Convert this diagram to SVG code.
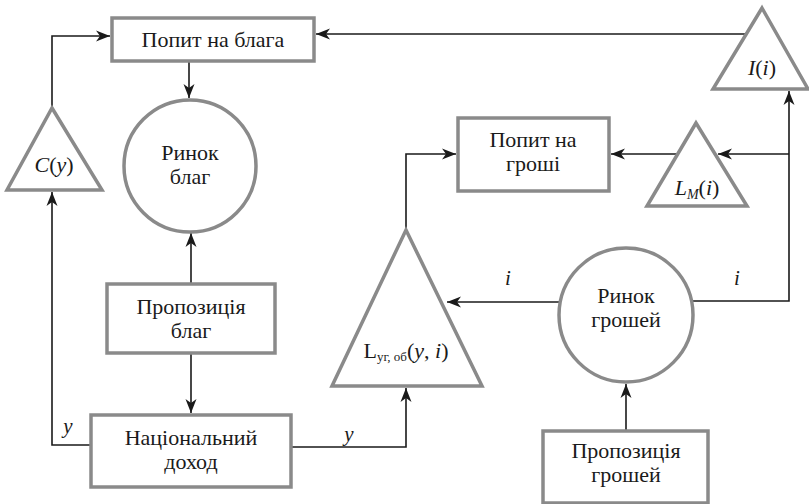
<svg xmlns="http://www.w3.org/2000/svg" width="809" height="504" viewBox="0 0 809 504">
<defs>
<marker id="arr" markerUnits="userSpaceOnUse" markerWidth="16" markerHeight="12" refX="14" refY="6" orient="auto">
<path d="M0,0.5 L14,6 L0,11.5 L4,6 z" fill="#1a1a1a"/>
</marker>
</defs>
<style>
.n{fill:#fff;stroke:#8a8a8a;stroke-width:3.5}
.c{fill:none;stroke:#1a1a1a;stroke-width:1.6}
text{font-family:'Liberation Serif','Times New Roman',serif;font-size:22px;fill:#1a1a1a;text-anchor:middle}
.i{font-style:italic}
.lb{font-style:italic;font-size:21px}
</style>
<rect width="809" height="504" fill="#fff"/>
<g id="connectors">
<path class="c" d="M52,108 V36 H110" marker-end="url(#arr)"/>
<path class="c" d="M745,34 H316" marker-end="url(#arr)"/>
<path class="c" d="M189,62 V98" marker-end="url(#arr)"/>
<path class="c" d="M191,284 V233" marker-end="url(#arr)"/>
<path class="c" d="M191,353 V413" marker-end="url(#arr)"/>
<path class="c" d="M91,445 H52 V192" marker-end="url(#arr)"/>
<path class="c" d="M291,447 H406 V388" marker-end="url(#arr)"/>
<path class="c" d="M406,230 V154 H456" marker-end="url(#arr)"/>
<path class="c" d="M679,154 H611" marker-end="url(#arr)"/>
<path class="c" d="M789,154 H718" marker-end="url(#arr)"/>
<path class="c" d="M693,301 H789 V91" marker-end="url(#arr)"/>
<path class="c" d="M559,302 H447" marker-end="url(#arr)"/>
<path class="c" d="M626,431 V384" marker-end="url(#arr)"/>
<text class="lb" x="68" y="433">y</text>
<text class="lb" x="349" y="441">y</text>
<text class="lb" x="508" y="285">i</text>
<text class="lb" x="737" y="285">i</text>
</g>
<g id="popyt-blaha">
<rect class="n" x="112" y="18" width="202" height="43"/>
<text x="213" y="47">Попит на блага</text>
</g>
<g id="c-y">
<polygon class="n" points="52,108 102,190 7,190"/>
<text x="54" y="172"><tspan class="i">C</tspan>(<tspan class="i">y</tspan>)</text>
</g>
<g id="rynok-blah">
<circle class="n" cx="190" cy="166" r="66"/>
<text x="190" y="160">Ринок</text>
<text x="190" y="184">благ</text>
</g>
<g id="propozytsiia-blah">
<rect class="n" x="107" y="284" width="168" height="69"/>
<text x="191" y="314">Пропозиція</text>
<text x="191" y="338">благ</text>
</g>
<g id="natsionalnyi-dokhid">
<rect class="n" x="91" y="415" width="200" height="72"/>
<text x="191" y="445">Національний</text>
<text x="191" y="469">доход</text>
</g>
<g id="i-i">
<polygon class="n" points="762,8 808,89 713,89"/>
<text x="762" y="75"><tspan class="i">I</tspan>(<tspan class="i">i</tspan>)</text>
</g>
<g id="l-m">
<polygon class="n" points="696,123 747,206 647,206"/>
<text x="697" y="195"><tspan class="i">L</tspan><tspan class="i" font-size="14" dy="4">M</tspan><tspan dy="-4">(</tspan><tspan class="i">i</tspan>)</text>
</g>
<g id="popyt-hroshi">
<rect class="n" x="458" y="118" width="151" height="73"/>
<text x="533" y="147">Попит на</text>
<text x="533" y="171">гроші</text>
</g>
<g id="l-uh-ob">
<polygon class="n" points="406,230 482,386 332,386"/>
<text x="406" y="358">L<tspan font-size="13" dy="3">уг, об</tspan><tspan dy="-3">(</tspan><tspan class="i">y</tspan>, <tspan class="i">i</tspan>)</text>
</g>
<g id="rynok-hroshei">
<circle class="n" cx="626" cy="315" r="67"/>
<text x="626" y="303">Ринок</text>
<text x="626" y="327">грошей</text>
</g>
<g id="propozytsiia-hroshei">
<rect class="n" x="543" y="431" width="165" height="72"/>
<text x="626" y="458">Пропозиція</text>
<text x="626" y="482">грошей</text>
</g>
</svg>
